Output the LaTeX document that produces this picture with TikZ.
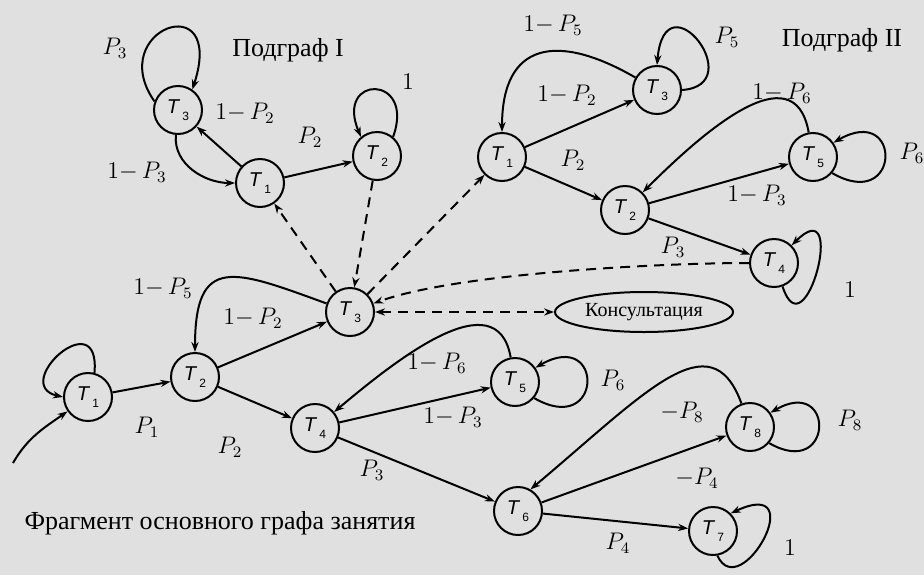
\documentclass[tikz,border=0pt]{standalone}
\usepackage{fontspec}
\setmainfont{Liberation Serif}
\setsansfont{Liberation Sans}
\usetikzlibrary{arrows.meta,shapes.geometric}

\tikzset{
  vert/.style={draw, circle, line width=1pt, minimum size=24pt, inner sep=0pt},
  prob/.style={font=\fontsize{12}{14}\selectfont},
  capt/.style={font=\fontsize{13}{15}\selectfont},
  trans/.style={->, line width=1pt},
  link/.style={->, line width=1pt, dash pattern=on 5pt off 3.5pt},
}
\newcommand{\tv}[1]{{\sffamily\itshape\fontsize{10}{12}\selectfont T\,\raisebox{-0.7ex}{\fontsize{6}{7}\selectfont\upshape #1}}}

\begin{document}
\begin{tikzpicture}[x=0.5pt, y=0.5pt, >={Stealth[length=5pt,width=3.6pt]}]
\useasboundingbox (0,0) rectangle (924,575);
\fill[black!12] (0,0) rectangle (924,575);
% Subgraph I
\node[vert] (a3) at (178,465) {\tv{3}};
\node[vert] (a1) at (260,392) {\tv{1}};
\node[vert] (a2) at (377,419) {\tv{2}};
\node[capt] (na) at (288,525) {Подграф I};
\node[prob] (la1) at (115,527) {$P_3$};
\node[prob] (la2) at (245,462) {$1{-}\,P_2$};
\node[prob] (la3) at (137,403) {$1{-}\,P_3$};
\node[prob] (la4) at (310,438) {$P_2$};
\node[prob] (la5) at (408,493) {$1$};
\draw[trans] (a1) -- (a3);
\draw[trans] (a3) to[out=265,in=180] (a1);
\draw[trans] (a1) -- (a2);
\draw[trans] (a3.160) .. controls +(125:88) and +(72:110) .. (a3.55);
\draw[trans] (a2.50) .. controls +(70:67) and +(113:68) .. (a2.130);
% Subgraph II
\node[vert] (b1) at (502,418) {\tv{1}};
\node[vert] (b3) at (657,485) {\tv{3}};
\node[vert] (b5) at (813,418) {\tv{5}};
\node[vert] (b2) at (625,365) {\tv{2}};
\node[vert] (b4) at (774,312) {\tv{4}};
\node[capt] (nb) at (842,535) {Подграф II};
\node[prob] (lb1) at (553,550) {$1{-}\,P_5$};
\node[prob] (lb2) at (567,480) {$1{-}\,P_2$};
\node[prob] (lb3) at (573,415) {$P_2$};
\node[prob] (lb4) at (727,538) {$P_5$};
\node[prob] (lb5) at (782,482) {$1{-}\,P_6$};
\node[prob] (lb6) at (912,422) {$P_6$};
\node[prob] (lb7) at (757,380) {$1{-}\,P_3$};
\node[prob] (lb8) at (673,328) {$P_3$};
\node[prob] (lb9) at (850,285) {$1$};
\draw[trans] (b1) -- (b3);
\draw[trans] (b3) to[out=150,in=90,looseness=1.6] (b1);
\draw[trans] (b3.0) .. controls +(4:69) and +(85:91) .. (b3.90);
\draw[trans] (b1) -- (b2);
\draw[trans] (b2) -- (b5);
\draw[trans] (b5) to[out=100,in=45,looseness=1.2] (b2);
\draw[trans] (b5.-40) .. controls +(-30:80) and +(30:80) .. (b5.35);
\draw[trans] (b2) -- (b4);
\draw[trans] (b4.-70) .. controls +(-72:73) and +(45:80) .. (b4.45);
% Main graph of the lesson
\node[vert] (m1) at (88,178) {\tv{1}};
\node[vert] (m2) at (195,198) {\tv{2}};
\node[vert] (m3) at (350,263) {\tv{3}};
\node[vert] (m4) at (315,147) {\tv{4}};
\node[vert] (m5) at (515,193) {\tv{5}};
\node[vert] (m6) at (518,64) {\tv{6}};
\node[vert] (m7) at (713,44) {\tv{7}};
\node[vert] (m8) at (750,148) {\tv{8}};
\node[draw, ellipse, line width=1pt, minimum width=89pt, minimum height=20pt,
  inner sep=0pt, font=\fontsize{10}{12}\selectfont] (kons) at (644,263) {Консультация};
\coordinate (start) at (13,112);
\node[capt] (nm) at (220,52) {Фрагмент основного графа занятия};
\node[prob] (lm1) at (163,287) {$1{-}\,P_5$};
\node[prob] (lm2) at (253,257) {$1{-}\,P_2$};
\node[prob] (lm3) at (147,148) {$P_1$};
\node[prob] (lm4) at (230,128) {$P_2$};
\node[prob] (lm5) at (372,105) {$P_3$};
\node[prob] (lm6) at (437,212) {$1{-}\,P_6$};
\node[prob] (lm7) at (453,158) {$1{-}\,P_3$};
\node[prob] (lm8) at (613,195) {$P_6$};
\node[prob] (lm9) at (682,163) {${-}P_8$};
\node[prob] (lm10) at (850,155) {$P_8$};
\node[prob] (lm11) at (697,97) {${-}P_4$};
\node[prob] (lm12) at (618,32) {$P_4$};
\node[prob] (lm13) at (790,27) {$1$};
\draw[trans] (start) to[out=60,in=215] (m1);
\draw[trans] (m1.75) .. controls +(85:72) and +(167:55) .. (m1.180);
\draw[trans] (m1) -- (m2);
\draw[trans] (m2) -- (m3);
\draw[trans] (m3) to[out=160,in=90,looseness=1.8] (m2);
\draw[trans] (m2) -- (m4);
\draw[trans] (m4) -- (m5);
\draw[trans] (m5) to[out=100,in=40,looseness=1.1] (m4);
\draw[trans] (m5.-40) .. controls +(-30:80) and +(30:80) .. (m5.35);
\draw[trans] (m4) -- (m6);
\draw[trans] (m6) -- (m8);
\draw[trans] (m8.110) .. controls +(110:90) and +(40:150) .. (m6.60);
\draw[trans] (m8.-40) .. controls +(-30:75) and +(30:75) .. (m8.35);
\draw[trans] (m6) -- (m7);
\draw[trans] (m7.-80) .. controls +(-65:55) and +(25:90) .. (m7.45);
% Links between the graphs
\draw[link] (m3) -- (a1);
\draw[link] (a2) -- (m3);
\draw[link] (m3) -- (b1);
\draw[link] (b4) to[out=180,in=20,looseness=0.6] (m3);
\draw[link, <->] (m3) -- (kons);
\end{tikzpicture}
\end{document}
